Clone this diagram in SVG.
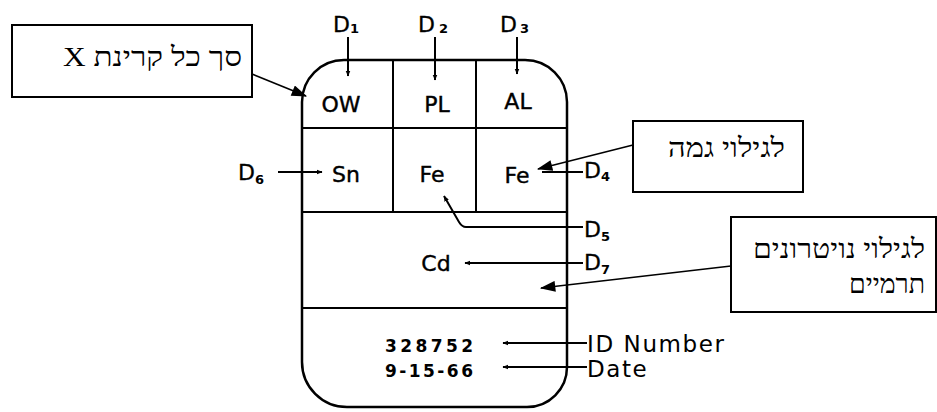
<svg xmlns="http://www.w3.org/2000/svg" width="937" height="412" viewBox="0 0 937 412">
<defs>
<style>
.bd{fill:none;stroke:#000;stroke-width:2.5}
.ln{fill:none;stroke:#000;stroke-width:2}
.cl{fill:none;stroke:#000;stroke-width:1.6}
.box{fill:#fff;stroke:#000;stroke-width:2}
.lb{font-family:"DejaVu Sans","Liberation Sans",sans-serif;font-size:22px;fill:#000;stroke:#000;stroke-width:0.4}
.dl{font-family:"DejaVu Sans","Liberation Sans",sans-serif;font-size:22px;fill:#000;stroke:#000;stroke-width:0.3}
.sb{font-family:"DejaVu Sans","Liberation Sans",sans-serif;font-size:13px;font-weight:bold;fill:#000}
.num{font-family:"DejaVu Sans","Liberation Sans",sans-serif;font-size:17px;font-weight:bold;fill:#000}
.big{font-family:"DejaVu Sans","Liberation Sans",sans-serif;font-size:23px;fill:#000;letter-spacing:1.6px}
.he{font-family:"Liberation Serif","Noto Sans","DejaVu Sans",serif;font-size:27px;fill:#000}
</style>
<marker id="sm" viewBox="0 0 10 10" refX="9" refY="5" markerWidth="6" markerHeight="6" markerUnits="userSpaceOnUse" orient="auto">
<path d="M0,1 L10,5 L0,9 Z" fill="#000"/>
</marker>
<marker id="big" viewBox="0 0 14 10" refX="13" refY="5" markerWidth="16" markerHeight="11" markerUnits="userSpaceOnUse" orient="auto">
<path d="M0,0 L14,5 L0,10 Z" fill="#000"/>
</marker>
</defs>

<g id="badge">
<path class="bd" d="M344 60 H525 A42 42 0 0 1 567 102 V367 A40 40 0 0 1 527 407 H347 A45 45 0 0 1 302 362 V102 A42 42 0 0 1 344 60 Z"/>
<line class="ln" x1="302" y1="128" x2="567" y2="128"/>
<line class="ln" x1="302" y1="212" x2="567" y2="212"/>
<line class="ln" x1="302" y1="308" x2="567" y2="308"/>
<line class="ln" x1="393" y1="60" x2="393" y2="212"/>
<line class="ln" x1="476" y1="60" x2="476" y2="212"/>
</g>

<g id="cells">
<text class="lb" x="341" y="112" text-anchor="middle">OW</text>
<text class="lb" x="437" y="112" text-anchor="middle">PL</text>
<text class="lb" x="518" y="109" text-anchor="middle">AL</text>
<text class="lb" x="346" y="182" text-anchor="middle">Sn</text>
<text class="lb" x="432" y="182" text-anchor="middle">Fe</text>
<text class="lb" x="517" y="183" text-anchor="middle">Fe</text>
<text class="lb" x="436" y="271" text-anchor="middle">Cd</text>
<text class="num" x="385" y="352" textLength="88" lengthAdjust="spacing">328752</text>
<text class="num" x="385" y="377" textLength="88" lengthAdjust="spacing">9-15-66</text>
</g>

<g id="detector-labels">
<text class="dl" x="333" y="32">D</text><text class="sb" x="350" y="33">1</text>
<text class="dl" x="418" y="32">D</text><text class="sb" x="439" y="33">2</text>
<text class="dl" x="500" y="32">D</text><text class="sb" x="520" y="33">3</text>
<text class="dl" x="238" y="180">D</text><text class="sb" x="255" y="184">6</text>
<text class="dl" x="584" y="178">D</text><text class="sb" x="601" y="181">4</text>
<text class="dl" x="584" y="237">D</text><text class="sb" x="601" y="241">5</text>
<text class="dl" x="584" y="270">D</text><text class="sb" x="601" y="274">7</text>
<text class="big" x="587" y="352">ID Number</text>
<text class="big" x="587" y="377">Date</text>
</g>

<g id="callout-x">
<rect class="box" x="12" y="25" width="240" height="72"/>
<text class="he" x="242" y="66" direction="rtl" text-anchor="start" textLength="179" lengthAdjust="spacingAndGlyphs">סך כל קרינת X</text>
</g>
<g id="callout-gamma">
<rect class="box" x="633" y="121" width="170" height="71"/>
<text class="he" x="785" y="157" direction="rtl" text-anchor="start" textLength="117" lengthAdjust="spacingAndGlyphs">לגילוי גמה</text>
</g>
<g id="callout-neutron">
<rect class="box" x="731" y="217" width="205" height="95"/>
<text class="he" x="925" y="258" direction="rtl" text-anchor="start" textLength="172" lengthAdjust="spacingAndGlyphs">לגילוי נויטרונים</text>
<text class="he" x="925" y="293" direction="rtl" text-anchor="start" textLength="76" lengthAdjust="spacingAndGlyphs">תרמיים</text>
</g>

<g id="connectors">
<line class="ln" x1="348" y1="37" x2="348" y2="76" marker-end="url(#sm)"/>
<line class="ln" x1="435" y1="37" x2="435" y2="80" marker-end="url(#sm)"/>
<line class="ln" x1="517" y1="37" x2="517" y2="74" marker-end="url(#sm)"/>
<line class="ln" x1="278" y1="172" x2="322" y2="172" marker-end="url(#sm)"/>
<line class="ln" x1="583" y1="172" x2="542" y2="172"/>
<path class="ln" d="M583 227 H466 Q462 227 459 222 L444 196" marker-end="url(#sm)"/>
<line class="ln" x1="583" y1="263" x2="465" y2="263" marker-end="url(#sm)"/>
<line class="ln" x1="587" y1="343" x2="503" y2="343" marker-end="url(#sm)"/>
<line class="ln" x1="587" y1="367" x2="503" y2="367" marker-end="url(#sm)"/>
<line class="cl" x1="252" y1="74" x2="306" y2="96" marker-end="url(#big)"/>
<line class="cl" x1="633" y1="145" x2="538" y2="169" marker-end="url(#big)"/>
<line class="cl" x1="731" y1="266" x2="541" y2="288" marker-end="url(#big)"/>
</g>
</svg>
